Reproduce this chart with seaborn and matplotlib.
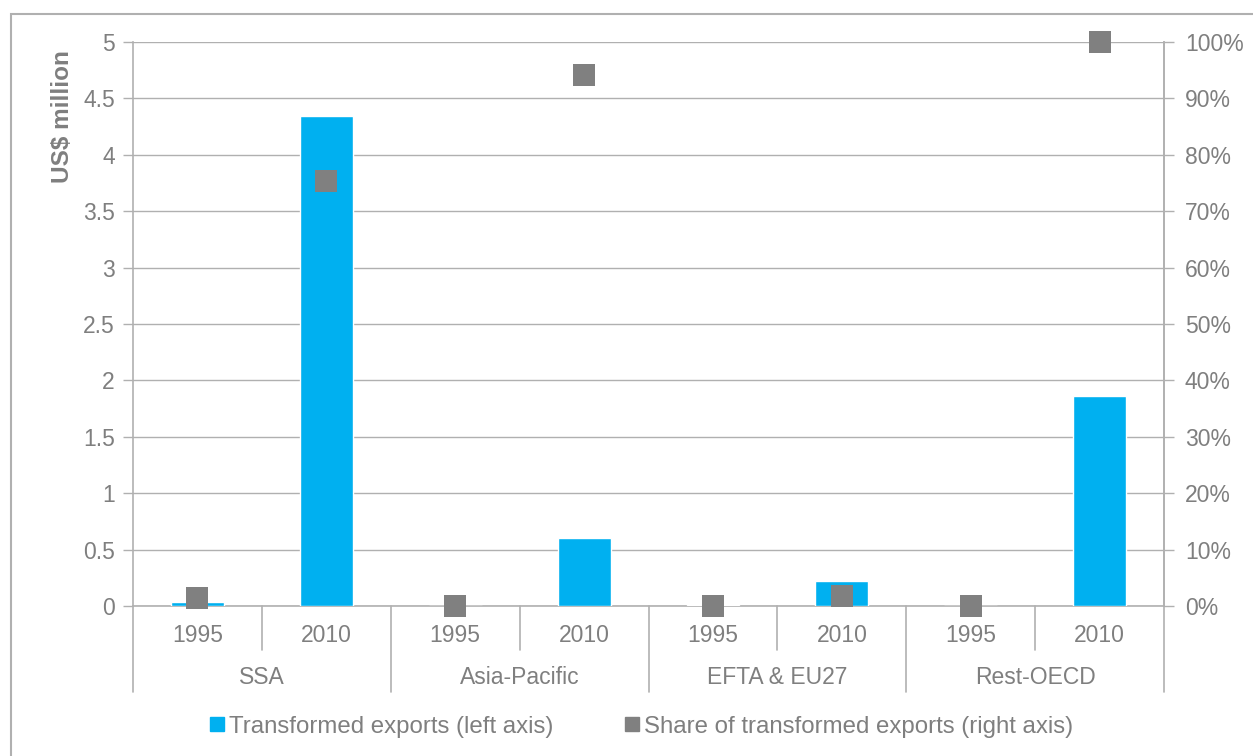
import matplotlib
matplotlib.use("Agg")
import matplotlib.pyplot as plt
import matplotlib.ticker as mticker
from matplotlib.lines import Line2D
from matplotlib.patches import Rectangle
import pandas as pd
import seaborn as sns

# ── Data ──────────────────────────────────────────────────────────────────────
regions = ["SSA", "Asia-Pacific", "EFTA & EU27", "Rest-OECD"]
years = ["1995", "2010"]
exports_musd = [0.035, 4.34, 0.0, 0.60, 0.01, 0.22, 0.0, 1.86]     # left axis
share_pct = [1.4, 75.4, 0.0, 94.1, 0.0, 1.8, 0.0, 100.0]           # right axis

BLUE = "#00b0f0"
GREY = "#808080"
TEXT = "#7f7f7f"
LINE = "#b0b0b0"
FS = 16.5

sns.set_theme(style="white")
plt.rcParams["font.family"] = ["Liberation Sans", "DejaVu Sans"]

slots = [f"{r} {y}" for r in regions for y in years]
df = pd.DataFrame({
    "slot": slots,
    "year": [y for _ in regions for y in years],
    "exports": exports_musd,
    "share": share_pct,
})

fig = plt.figure(figsize=(12.53, 7.56), dpi=100)
ax = fig.add_axes([0.1061, 0.1984, 0.8230, 0.7460])

sns.barplot(data=df, x="slot", y="exports", order=slots, color=BLUE,
            saturation=1, width=0.41, ax=ax, zorder=3)
ax.set_ylim(0, 5)
ax.set_xlim(-0.5, len(slots) - 0.5)
ax.yaxis.set_major_locator(mticker.MultipleLocator(0.5))
ax.yaxis.set_major_formatter(mticker.FuncFormatter(lambda v, _: f"{v:g}"))
ax.grid(axis="y", color=LINE, linewidth=1, zorder=0)
ax.set_axisbelow(True)
ax.set_xlabel("")
ax.set_ylabel("US$ million", color=TEXT, fontsize=17.5, fontweight="bold")
ax.yaxis.set_label_coords(-0.057, 0.867)
ax.set_xticks(range(len(slots)))
ax.set_xticklabels(df["year"])
ax.tick_params(axis="x", length=0, pad=13, labelsize=FS, labelcolor=TEXT)
ax.tick_params(axis="y", direction="out", length=7, width=1, color=LINE,
               labelsize=FS, labelcolor=TEXT, left=True, pad=6)
ax.spines["top"].set_visible(False)
for side in ["left", "right", "bottom"]:
    ax.spines[side].set_color(LINE)
    ax.spines[side].set_linewidth(1.2)

# Right axis: share of transformed exports
ax2 = ax.twinx()
sns.stripplot(data=df, x="slot", y="share", order=slots, jitter=False,
              marker="s", size=16, color=GREY, linewidth=0, ax=ax2, zorder=4)
for coll in ax2.collections:
    coll.set_clip_on(False)
ax2.set_ylim(0, 100)
ax2.set_xlim(-0.5, len(slots) - 0.5)
ax2.yaxis.set_major_locator(mticker.MultipleLocator(10))
ax2.yaxis.set_major_formatter(mticker.PercentFormatter(decimals=0))
ax2.set_ylabel("")
ax2.set_xlabel("")
ax2.tick_params(axis="y", direction="out", length=7, width=1, color=LINE,
                labelsize=FS, labelcolor=TEXT, right=True, pad=8)
for side in ["top", "left", "bottom"]:
    ax2.spines[side].set_visible(False)
ax2.spines["right"].set_color(LINE)
ax2.spines["right"].set_linewidth(1.2)

# Category separators and group labels below the axis
trans = ax.get_xaxis_transform()
n_years = len(years)
for i in range(len(slots) + 1):
    x = i - 0.5
    depth = -0.1525 if i % n_years == 0 else -0.078
    ax.plot([x, x], [0, depth], transform=trans, color=LINE, lw=1.2, clip_on=False)
for g, region in enumerate(regions):
    xc = g * n_years + (n_years - 1) / 2
    ax.text(xc, -0.126, region, transform=trans, ha="center", va="center",
            fontsize=FS, color=TEXT)

# Legend
handles = [
    Line2D([], [], marker="s", linestyle="", markersize=10, color=BLUE),
    Line2D([], [], marker="s", linestyle="", markersize=10, color=GREY),
]
fig.legend(handles, ["Transformed exports (left axis)",
                     "Share of transformed exports (right axis)"],
           loc="center", bbox_to_anchor=(0.51, 0.039), ncol=2, frameon=False,
           fontsize=17.3, labelcolor=TEXT, handletextpad=0.0, columnspacing=2.8,
           handlelength=1.0)

# Outer chart border
fig.patches.append(Rectangle((11 / 1253, -0.1), 1.2, 1 - 14 / 756 + 0.1,
                             transform=fig.transFigure, fill=False,
                             edgecolor=LINE, linewidth=1.5))

fig.savefig("out.png", dpi=100)
